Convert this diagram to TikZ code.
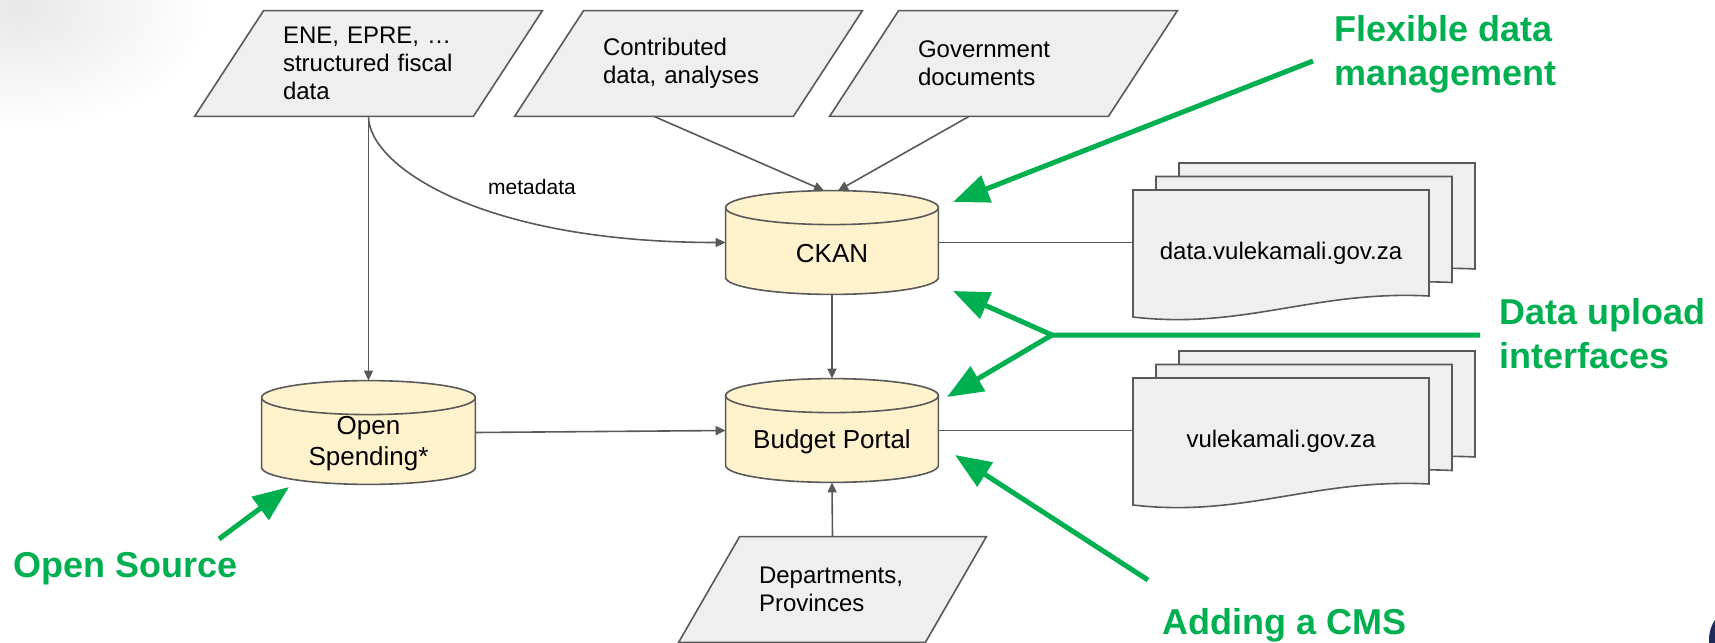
\documentclass[tikz,border=0pt]{standalone}
\usepackage{fontspec}
\setmainfont{Liberation Sans}
\usetikzlibrary{arrows.meta,calc}
\pgfdeclarelayer{bg}
\pgfsetlayers{bg,main}
\definecolor{linegray}{HTML}{595959}
\definecolor{boxgray}{HTML}{EFEFEF}
\definecolor{dbyellow}{HTML}{FFF2CC}
\definecolor{callgreen}{HTML}{00B050}
\definecolor{logonavy}{HTML}{1F2A5C}
\tikzset{
  source/.style={rectangle, inner sep=0pt, minimum width=139pt, minimum height=52.5pt,
    text width=85.5pt, align=left, font=\fontsize{12}{14}\selectfont},
  srcbox/.style={draw=linegray, line width=0.8pt, fill=boxgray},
  store/.style={rectangle, inner sep=0pt, minimum width=106pt, minimum height=51.5pt},
  storetext/.style={font=\fontsize{13}{15.5}\selectfont, align=center, inner sep=0pt, yshift=-5.5pt},
  dbbox/.style={draw=linegray, line width=0.8pt, fill=dbyellow},
  dbline/.style={draw=linegray, line width=0.8pt},
  docbox/.style={draw=linegray, line width=0.8pt, fill=boxgray},
  doctext/.style={inner sep=0pt, minimum width=148pt, minimum height=63.5pt, font=\fontsize{12}{14}\selectfont},
  feed/.style={draw=linegray, line width=0.8pt, -{Triangle[length=5pt,width=4.5pt]}},
  link/.style={draw=linegray, line width=0.8pt},
  callout/.style={font=\fontsize{18}{22}\selectfont\bfseries, text=callgreen, align=left, inner sep=0pt, anchor=north west},
  pointer/.style={draw=callgreen, line width=2.5pt, -{Triangle[length=18pt,width=14pt]}}
}
\begin{document}
\begin{tikzpicture}[x=0.5pt, y=-0.5pt]
\useasboundingbox (0,0) rectangle (1715,643); % page, 1 px = 0.5pt
\shade[inner color=black!9, outer color=white] (20,10) ellipse [x radius=190, y radius=120]; % slide shadow
\fill[logonavy] (1746,640) circle [radius=37]; % logo edge

% inputs
\node[source] (ene) at (368.5,63.5) {ENE, EPRE, …\\structured fiscal\\data};
\node[source] (contrib) at (688.5,63.5) {Contributed\\data, analyses};
\node[source] (govdocs) at (1003.5,63.5) {Government\\documents};
\node[source, minimum width=123pt, text width=73.5pt] (depts) at (832.5,589.5) {Departments,\\Provinces};

% stores
\node[store, label={[storetext, name=ckantext]center:CKAN}] (ckan) at (832,242.5) {};
\node[store, minimum width=106.5pt, label={[storetext, name=ospendtext]center:Open\\Spending*}] (ospend) at (368.5,432.5) {};
\node[store, label={[storetext, name=bportaltext]center:Budget Portal}] (bportal) at (832,430.5) {};

\begin{pgfonlayer}{bg}
\foreach \n/\k in {ene/34.5, contrib/34.5, govdocs/34.5, depts/30.5}
  \filldraw[srcbox] ($(\n.north west)+(\k,0)$) -- ($(\n.north east)+(\k,0)$)
    -- ($(\n.south east)+(-\k,0)$) -- ($(\n.south west)+(-\k,0)$) -- cycle; % slanted box
\foreach \n in {ckan, ospend, bportal} {
  \filldraw[dbbox] ($(\n.north west)+(0,17)$) -- ($(\n.south west)+(0,-17)$)
    .. controls +(0,9.4) and +(-58.5,0) .. (\n.south)
    .. controls +(58.5,0) and +(0,9.4) .. ($(\n.south east)+(0,-17)$)
    -- ($(\n.north east)+(0,17)$)
    .. controls +(0,-9.4) and +(58.5,0) .. (\n.north)
    .. controls +(-58.5,0) and +(0,-9.4) .. ($(\n.north west)+(0,17)$) -- cycle; % can
  \draw[dbline] ($(\n.north west)+(0,17)$)
    .. controls +(0,9.4) and +(-58.5,0) .. ($(\n.north)+(0,34)$)
    .. controls +(58.5,0) and +(0,9.4) .. ($(\n.north east)+(0,17)$); % lid
}
\end{pgfonlayer}

% sites, three sheets each
\foreach \d in {2,1,0}
  \filldraw[docbox] ($(1133,190)+(23*\d,-13.5*\d)$) -- ++(296,0) -- ++(0,106)
    .. controls +(-114,-6) and +(110,13) .. ($(1133,317)+(23*\d,-13.5*\d)$) -- cycle;
\node[doctext] (ddoc) at (1281,253.5) {data.vulekamali.gov.za};
\foreach \d in {2,1,0}
  \filldraw[docbox] ($(1133,378)+(23*\d,-13.5*\d)$) -- ++(296,0) -- ++(0,106)
    .. controls +(-114,-6) and +(110,13) .. ($(1133,505)+(23*\d,-13.5*\d)$) -- cycle;
\node[doctext] (vdoc) at (1281,441.5) {vulekamali.gov.za};

% connectors
\draw[feed] (ene.south) -- (ospend.north);
\draw[feed] (ene.south) .. controls +(0,49) and +(-246,0) .. (ckan.west);
\node[font=\fontsize{10.5}{12}\selectfont] (metalbl) at (532,187) {metadata};
\draw[feed] ($(contrib.south)+(-34.5,0)$) -- ($(ckan.north)+(-8,0)$);
\draw[feed] ($(govdocs.south)+(-34.5,0)$) -- ($(ckan.north)+(6,0)$);
\draw[feed] (ckan.south) -- (bportal.north);
\draw[feed] (depts.north) -- (bportal.south);
\draw[feed] (ospend.east) -- (bportal.west);
\draw[link] (ckan.east) -- (ckan.east -| ddoc.west);
\draw[link] (bportal.east) -- (bportal.east -| vdoc.west);

% green call-outs
\node[callout] (flexlbl) at (1334,15) {Flexible data\\management};
\node[callout] (uploadlbl) at (1499,298) {Data upload\\interfaces};
\node[callout] (cmslbl) at (1162,608) {Adding a CMS};
\node[callout] (srclbl) at (13,552) {Open Source};
\coordinate (flexfrom) at (1313,61);
\coordinate (flexto) at (953,202);
\coordinate (uploadfrom) at (1480,335);
\coordinate (uploadfork) at (1052,335);
\coordinate (uploadtoa) at (953,291);
\coordinate (uploadtob) at (947,397);
\coordinate (cmsfrom) at (1148,580);
\coordinate (cmsto) at (955,455);
\coordinate (srcfrom) at (219,539);
\coordinate (srcto) at (289,487);
\draw[pointer] (flexfrom) -- (flexto);
\draw[pointer] (uploadfrom) -- (uploadfork) -- (uploadtoa);
\draw[pointer] (uploadfork) -- (uploadtob);
\draw[pointer] (cmsfrom) -- (cmsto);
\draw[pointer] (srcfrom) -- (srcto);
\end{tikzpicture}
\end{document}
